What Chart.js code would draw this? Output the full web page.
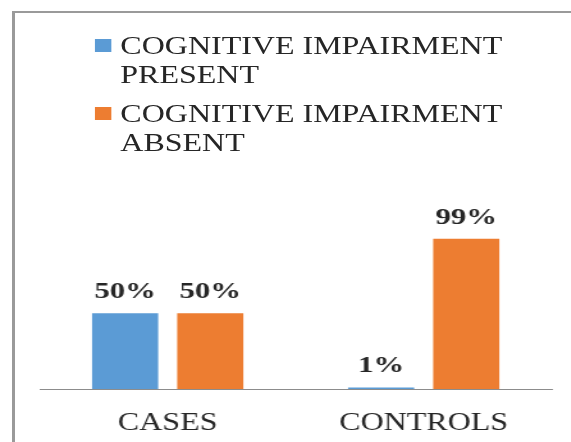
<!DOCTYPE html>
<html lang="en">
<head>
  <meta charset="UTF-8">
  <title>Cognitive impairment: cases vs controls</title>
  <script src="https://cdn.jsdelivr.net/npm/chart.js"></script>
  <style>
    html, body { margin: 0; padding: 0; background: #fff; overflow: hidden; width: 571px; height: 442px; }
    .edge { position: absolute; background: #9a9a9a; }
    #edgeTop { left: 12px; top: 11px; width: 559px; height: 2px; }
    #edgeLeft { left: 12px; top: 11px; width: 3px; height: 431px; }
    #stage {
      position: absolute; left: 0; top: 0; width: 446px; height: 442px; overflow: hidden;
      transform: scaleX(1.28); transform-origin: 0 0;
    }
    #chartCanvas { position: absolute; left: 0; top: 0; }
    #legend {
      position: absolute; left: 74px; top: 32px; width: 330px;
      font-family: 'Liberation Serif', 'Times New Roman', serif;
      font-size: 25px; line-height: 28.5px; color: #262626;
    }
    #legend .item { position: relative; padding-left: 20px; margin-bottom: 11px; }
    #legend .box { position: absolute; left: 0; top: 7px; width: 13px; height: 13px; }
  </style>
</head>
<body>
  <div id="stage">
    <canvas id="chartCanvas" width="446" height="442"></canvas>
    <div id="legend"></div>
  </div>
  <div class="edge" id="edgeTop"></div>
  <div class="edge" id="edgeLeft"></div>
  <script>
    const categories = ['CASES', 'CONTROLS'];
    const seriesNames = ['COGNITIVE IMPAIRMENT PRESENT', 'COGNITIVE IMPAIRMENT ABSENT'];
    const presentValues = [50, 1];
    const absentValues = [50, 99];

    const serif = "'Liberation Serif', 'Times New Roman', serif";

    // value labels above each bar
    const barLabels = {
      id: 'barLabels',
      afterDatasetsDraw(chart) {
        const ctx = chart.ctx;
        ctx.save();
        ctx.font = 'bold 24px ' + serif;
        ctx.fillStyle = '#262626';
        ctx.textAlign = 'center';
        ctx.textBaseline = 'alphabetic';
        chart.data.datasets.forEach((ds, i) => {
          chart.getDatasetMeta(i).data.forEach((bar, j) => {
            ctx.fillText(ds.data[j] + '%', bar.x, bar.y - 15);
          });
        });
        ctx.restore();
      }
    };

    // html legend built from the chart's own legend items
    const htmlLegend = {
      id: 'htmlLegend',
      afterUpdate(chart) {
        const box = document.getElementById('legend');
        box.innerHTML = '';
        const items = chart.options.plugins.legend.labels.generateLabels(chart);
        items.forEach(item => {
          const row = document.createElement('div');
          row.className = 'item';
          const sq = document.createElement('span');
          sq.className = 'box';
          sq.style.background = item.fillStyle;
          row.appendChild(sq);
          row.appendChild(document.createTextNode(item.text));
          box.appendChild(row);
        });
      }
    };

    new Chart(document.getElementById('chartCanvas'), {
      type: 'bar',
      data: {
        labels: categories,
        datasets: [
          { label: seriesNames[0], data: presentValues, backgroundColor: '#5B9BD5' },
          { label: seriesNames[1], data: absentValues, backgroundColor: '#ED7D31' }
        ]
      },
      options: {
        responsive: false,
        animation: false,
        categoryPercentage: 0.665,
        barPercentage: 0.777,
        layout: { padding: { top: 207, left: 31, right: 15, bottom: -15 } },
        plugins: {
          legend: { display: false },
          tooltip: { enabled: false }
        },
        scales: {
          x: {
            z: 1,
            grid: { display: false, drawTicks: false },
            border: { display: true, color: '#8c8c8c', width: 1 },
            ticks: {
              padding: 19,
              color: '#262626',
              font: { family: serif, size: 25 }
            }
          },
          y: {
            display: false,
            min: 0,
            max: 120
          }
        }
      },
      plugins: [barLabels, htmlLegend]
    });
  </script>
</body>
</html>
